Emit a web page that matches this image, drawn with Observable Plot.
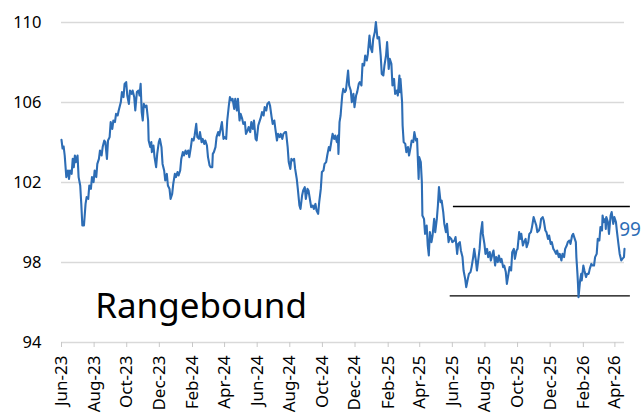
<!DOCTYPE html>
<html>
<head>
<meta charset="utf-8">
<script src="https://cdn.jsdelivr.net/npm/d3@7"></script>
<script src="https://cdn.jsdelivr.net/npm/@observablehq/plot@0.6"></script>
<style>
  html, body { margin: 0; padding: 0; background: #fff; }
  #chart { width: 641px; height: 413px; }
</style>
</head>
<body>
<div id="chart"></div>
<script>
// Series: [days since start date, index level]
const startDate = "2023-06-01";

const seg2023a = [[0,104.13],[2,103.7],[4,103.8],[6,103.35],[9,102.27],[12,102.6],[14,102.18],[16,102.6],[19,102.43],[21,103.18],[23,102.77],[25,103.35],[27,103.02],[30,103.35],[32,102.27],[35,101.85],[37,100.93],[39,99.85],[42,99.85],[45,100.93],[47,101.27],[50,101.18],[52,101.85],[55,101.68],[57,102.27],[60,102.02],[62,102.6],[65,102.27],[67,102.93],[70,103.18],[72,103.6],[75,103.35],[77,103.77],[80,104.1],[82,104.02],[85,103.18],[87,104.1],[90,104.27],[92,105.02],[95,104.68],[97,105.1],[100,105.02],[102,105.43],[105,105.35],[107,105.6],[111,106.02],[113,106.52],[116,106.27],[118,106.93],[121,107.02],[123,106.35],[126,105.93],[128,106.6],[131,106.43],[133,106.6],[136,106.27],[138,105.6]];

const seg2023b = [[141,106.52],[144,106.6],[146,106.35],[148,106.93],[150,105.52],[152,105.1],[154,105.93],[157,105.77],[159,105.85],[162,105.1],[163,104.1],[166,103.77],[168,104.02],[169,103.52],[172,103.85],[174,103.27],[177,102.77],[179,103.43],[182,104.02],[184,104.18],[187,103.77],[189,102.93],[192,102.6],[194,102.1],[197,102.43],[199,101.85],[202,101.68],[204,101.18],[207,101.43],[209,101.93],[212,102.43],[214,102.27],[217,102.52],[219,102.35],[222,102.6],[224,103.18],[227,103.52],[229,103.35],[232,103.6],[234,103.43],[237,103.6],[239,103.27],[242,103.77],[244,104.18],[247,104.1],[249,104.35],[252,104.93],[254,104.27],[257,104.18],[259,104.52],[262,104.02],[264,104.18],[267,103.93],[269,104.1],[272,103.85],[274,103.27],[277,102.85],[279,102.77],[282,102.77],[283,103.43],[285,103.52],[288,103.77],[290,104.27],[293,104.52],[295,104.35],[297,104.6]];

const seg2024a = [[300,105.02],[303,104.18],[305,104.27],[308,104.18],[310,105.1],[313,105.85],[315,106.27],[318,106.1],[320,106.18],[323,105.68],[325,106.18],[328,105.6],[330,106.18],[333,105.1],[335,105.43],[338,105.18],[340,104.93],[343,105.02],[345,104.43],[348,104.6],[350,104.77],[353,104.52],[355,105.02],[358,104.68],[360,105.1],[363,104.18],[365,104.1],[368,104.85],[370,105.02],[373,105.27],[375,105.52],[378,105.35],[380,105.77],[383,105.6],[385,105.93],[388,106.02],[390,105.85],[393,105.27],[395,104.93],[398,105.1],[400,104.68],[403,104.1],[405,104.43],[408,104.27],[410,104.43],[413,104.18],[415,104.43],[418,104.52],[420,104.52],[423,103.77],[425,103.02],[428,102.68],[430,103.18],[433,103.1],[435,103.18],[437,102.68]];

const seg2024b = [[440,102.18],[442,101.68],[445,100.85],[447,100.68],[450,101.35],[452,101.6],[455,101.77],[457,101.18],[460,101.68],[462,101.6],[465,101.1],[467,100.77],[470,100.85],[472,100.68],[475,100.93],[477,100.6],[480,100.43],[482,101.02],[485,101.68],[487,102.52],[490,102.6],[492,102.93],[495,103.02],[497,103.35],[500,103.77],[502,103.6],[505,104.1],[507,104.43],[510,104.18],[512,104.35],[515,104.02],[517,104.35],[518,103.43],[520,105.02],[522,105.35],[525,106.35],[527,106.68],[530,106.52],[532,106.6],[535,107.35],[536,107.6],[538,106.85],[541,106.6],[543,106.02],[546,106.43],[548,105.77],[551,106.35],[553,106.52],[556,106.93],[558,107.02],[561,106.85],[563,107.93],[566,107.85],[568,108.35],[571,108.1],[573,108.43],[576,109.35],[578,108.77],[581,108.52],[583,109.18],[586,109.52],[588,110.02]];

const seg2025a = [[591,109.2],[594,109.27],[597,108.35],[599,107.43],[602,107.35],[604,107.85],[607,108.35],[609,109.02],[612,107.68],[614,108.18],[617,107.93],[619,106.85],[622,107.18],[624,106.43],[627,106.6],[629,106.35],[632,107.35],[633,106.52],[634,107.18],[637,106.02],[638,104.85],[640,104.02],[643,103.93],[645,103.52],[648,103.77],[650,103.35],[653,103.77],[655,104.1],[658,104.02],[660,104.52],[663,104.1],[665,104.18],[668,102.18],[669,103.27],[672,103.02],[674,102.02],[675,100.35],[678,100.18],[680,99.43],[683,99.85],[685,98.85],[687,98.35],[689,99.52],[692,99.02],[694,99.35],[697,100.18],[699,99.52],[702,100.18],[704,100.85],[706,101.77],[709,101.02],[711,101.1],[714,100.52],[716,99.93],[719,99.52],[721,99.93],[724,99.02],[726,99.27],[729,99.18],[731,99.02]];

const seg2025b = [[735,99.1],[737,99.27],[740,98.43],[742,98.93],[745,99.02],[747,98.6],[750,98.27],[752,97.6],[755,97.18],[757,96.77],[760,97.18],[762,97.43],[765,97.52],[767,97.77],[770,98.27],[772,98.68],[775,98.1],[777,97.6],[779,98.02],[782,98.68],[784,99.43],[787,100.02],[788,99.43],[791,98.93],[793,98.43],[796,98.68],[798,98.27],[801,98.52],[803,98.1],[806,98.43],[808,98.6],[811,97.85],[813,98.27],[816,98.02],[818,98.35],[821,98.02],[823,98.18],[826,97.77],[828,97.85],[831,97.52],[833,96.93],[836,97.43],[838,97.77],[841,97.6],[843,98.52],[846,98.68],[848,98.18],[851,98.6],[853,98.68],[856,99.52],[858,99.18],[860,99.43],[863,98.85],[865,99.02],[868,99.18],[870,98.77],[873,99.02],[875,99.43],[878,99.52],[880,99.77],[883,100.27],[885,100.1],[888,99.85],[890,99.52],[893,99.6]];

const seg2026 = [[895,99.77],[897,100.18],[900,100.27],[902,100.1],[905,99.6],[907,99.52],[910,99.18],[912,99.35],[915,98.93],[917,99.02],[920,98.68],[922,98.6],[925,98.43],[927,98.6],[930,98.27],[932,98.43],[935,98.1],[937,98.43],[940,98.27],[942,98.68],[945,98.85],[947,99.02],[950,99.1],[952,98.93],[955,99.35],[957,99.43],[960,99.18],[962,99.02],[963,98.27],[965,97.43],[966,96.93],[967,96.27],[970,97.1],[972,97.43],[973,97.1],[976,97.85],[978,97.6],[981,97.27],[983,97.43],[986,97.43],[988,97.68],[991,97.93],[993,97.85],[996,97.85],[998,98.27],[1001,98.43],[1003,99.18],[1006,99.1],[1008,99.77],[1011,99.6],[1012,100.35],[1014,100.02],[1017,100.18],[1018,99.68],[1019,100.27],[1022,100.02],[1024,99.43],[1027,100.35],[1029,100.52],[1032,99.93],[1034,100.27],[1037,100.02],[1039,99.52],[1042,98.85],[1044,98.43],[1047,98.1],[1049,98.18],[1052,98.27],[1053,98.68]];

// Axis ticks
const yTicks = [94, 98, 102, 106, 110];
const xTickDates = ["2023-06-01","2023-08-01","2023-10-01","2023-12-01","2024-02-01","2024-04-01","2024-06-01","2024-08-01","2024-10-01","2024-12-01","2025-02-01","2025-04-01","2025-06-01","2025-08-01","2025-10-01","2025-12-01","2026-02-01","2026-04-01"];
const xDomain = ["2023-06-01", "2026-04-19"];

// Range band (upper / lower bounds)
const rangeStarts = ["2025-06-03", "2025-05-28"];
const rangeEnd = "2026-04-30";
const rangeLevels = [100.8, 96.33];

// Annotations
const endLabel = {date: "2026-04-09", value: 99.35, text: "99"};
const note = {date: "2023-08-03", value: 95.25, text: "Rangebound"};

const blue = "#2d6db5";
const start = new Date(startDate);
const series = [seg2023a, seg2023b, seg2024a, seg2024b, seg2025a, seg2025b, seg2026]
  .flat()
  .map(([d, v]) => ({date: d3.utcDay.offset(start, d), value: v}));
const ranges = rangeLevels.map((v, i) => ({value: v, x1: new Date(rangeStarts[i]), x2: new Date(rangeEnd)}));

const chart = Plot.plot({
  width: 641,
  height: 413,
  marginLeft: 61,
  marginRight: 17,
  marginTop: 22,
  marginBottom: 71,
  style: {fontFamily: "'Noto Sans', sans-serif", fontSize: "16px", color: "#000", background: "#fff"},
  x: {type: "utc", domain: xDomain.map(d => new Date(d))},
  y: {domain: [94, 110]},
  marks: [
    Plot.ruleY(yTicks, {stroke: "#d9d9d9", strokeWidth: 1.5}),
    Plot.axisY(yTicks, {tickSize: 0, tickPadding: 20, fontSize: 16.5, label: null}),
    Plot.axisX(xTickDates.map(d => new Date(d)), {
      tickRotate: -90, tickSize: 5, tickPadding: 8, stroke: "#c8c8c8",
      tickFormat: d3.utcFormat("%b-%y"), fontSize: 17, label: null
    }),
    Plot.ruleY(ranges, {y: "value", x1: "x1", x2: "x2", stroke: "#000", strokeWidth: 1.3}),
    Plot.line(series, {x: "date", y: "value", stroke: blue, strokeWidth: 2.1}),
    Plot.text([endLabel], {x: d => new Date(d.date), y: "value", text: "text", fill: blue, fontSize: 19, textAnchor: "start", lineAnchor: "bottom"}),
    Plot.text([note], {x: d => new Date(d.date), y: "value", text: "text", fill: "#000", fontSize: 35, textAnchor: "start", lineAnchor: "bottom", fontFamily: "'Comic Sans MS', 'Noto Sans', sans-serif"})
  ]
});
document.getElementById("chart").appendChild(chart);
</script>
</body>
</html>
